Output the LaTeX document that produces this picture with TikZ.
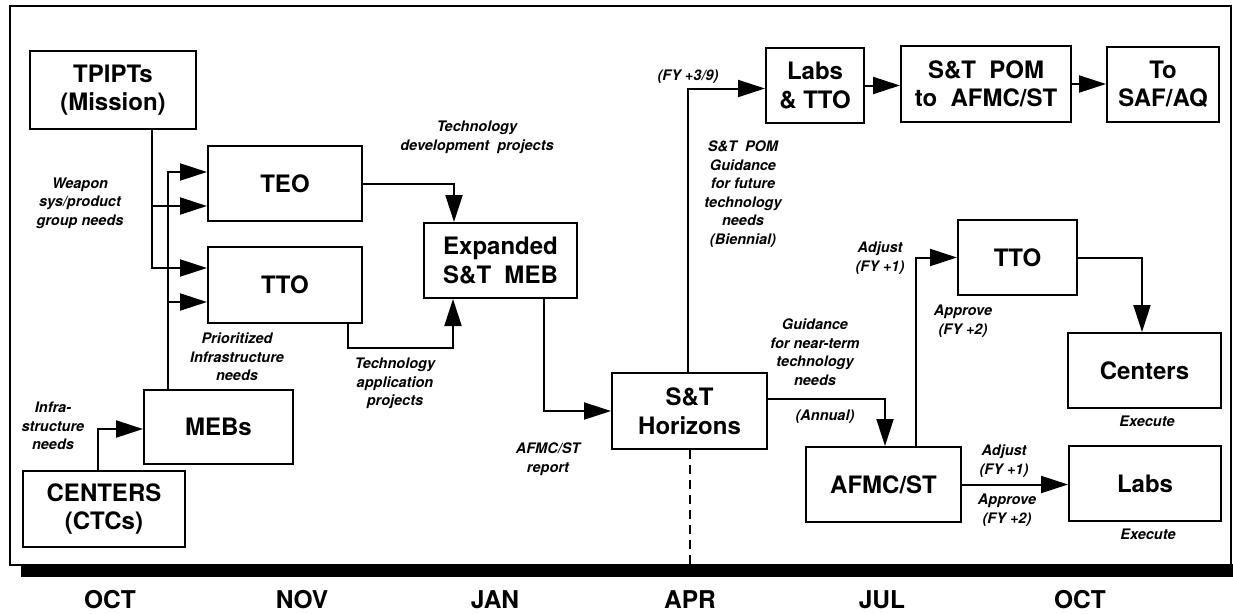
\documentclass[tikz,border=0pt]{standalone}
\usepackage{fontspec}
\setmainfont{TeX Gyre Heros}
\usetikzlibrary{arrows.meta,calc}
\begin{document}
\begin{tikzpicture}[x=1pt,y=-1pt,
 box/.style={draw,line width=2pt,inner sep=0pt,align=center,font=\bfseries\fontsize{24}{28.5}\selectfont},
 lbl/.style={inner sep=0pt,align=center,font=\bfseries\itshape\fontsize{14.5}{18.5}\selectfont},
 mon/.style={inner sep=0pt,font=\bfseries\fontsize{24.5}{28}\selectfont},
 arr/.style={line width=2pt,-{Triangle[length=27pt,width=17pt]}},
 plain/.style={line width=2pt},
]
\useasboundingbox (0,0) rectangle (1233,613);
% frame and time bar
\draw[line width=2pt] (10,6) rectangle (1231,565);
\fill (21,564) rectangle (1233,577);
\coordinate (barTop) at (0,564);

% boxes
\node[box,minimum width=166pt,minimum height=78pt] (tpipts) at (113,90) {TPIPTs\\(Mission)};
\node[box,minimum width=154pt,minimum height=75pt] (teo) at (285,183.5) {TEO};
\node[box,minimum width=154pt,minimum height=76pt] (ttoL) at (285,285) {TTO};
\node[box,minimum width=149pt,minimum height=74pt] (mebs) at (218.5,427) {MEBs};
\node[box,minimum width=162pt,minimum height=76pt] (ctcs) at (104,509) {CENTERS\\(CTCs)};
\node[box,minimum width=153pt,minimum height=75pt] (exp) at (500.5,260.5) {Expanded\\S\&T\ \ MEB};
\node[box,minimum width=155pt,minimum height=76pt] (hor) at (689.5,411) {S\&T\\Horizons};
\node[box,minimum width=98pt,minimum height=75pt] (labtto) at (815,85.5) {Labs\\\&\ TTO};
\node[box,minimum width=170pt,minimum height=76pt] (pom) at (986,84) {S\&T\ \ POM\\to\ \ AFMC/ST};
\node[box,minimum width=112pt,minimum height=75pt] (saf) at (1163,84.5) {To\\SAF/AQ};
\node[box,minimum width=119pt,minimum height=75pt] (ttoR) at (1017.5,257.5) {TTO};
\node[box,minimum width=153pt,minimum height=75pt] (cent) at (1144.5,370.5) {Centers};
\node[box,minimum width=152pt,minimum height=75pt] (labs) at (1145,483.5) {Labs};
\node[box,minimum width=155pt,minimum height=75pt] (afmc) at (883.5,484.5) {AFMC/ST};

% helper coordinates
\coordinate (xa) at (152,0);
\coordinate (xb) at (168,0);
\coordinate (teoA) at ([yshift=11.5pt]teo.west);
\coordinate (teoB) at ([yshift=-22.5pt]teo.west);
\coordinate (ttoA) at ([yshift=17pt]ttoL.west);
\coordinate (ttoB) at ([yshift=-17pt]ttoL.west);
\coordinate (mebsA) at ([yshift=-2pt]mebs.west);
\coordinate (ctcsA) at ([xshift=-6pt]ctcs.north);

% connectors
\draw[arr] (tpipts.south -| xa) |- (ttoA);
\draw[arr] (teoB -| xa) -- (teoB);
\draw[arr] (mebs.north -| xb) |- (teoA);
\draw[arr] (ttoB -| xb) -- (ttoB);
\draw[arr] (ctcsA) |- (mebsA);
\draw[arr] (teo.east) -| ([xshift=-46.5pt]exp.north);
\draw[arr] ([xshift=63pt]ttoL.south) -- ++(0,24) -| ([xshift=-47.5pt]exp.south);
\draw[arr] ([xshift=43.5pt]exp.south) |- (hor.west);
\draw[arr] ([xshift=-2pt]hor.north) |- ([yshift=-3pt]labtto.west);
\draw[arr] (labtto.east) -- (labtto.east -| pom.west);
\draw[arr] (pom.east) -- (pom.east -| saf.west);
\draw[arr] ([yshift=12pt]hor.east) -| ([xshift=1.5pt]afmc.north);
\draw[arr] ([xshift=32.5pt]afmc.north) |- (ttoR.west);
\draw[arr] (ttoR.east) -| ([xshift=-2.5pt]cent.north);
\draw[arr] (afmc.east) -- (afmc.east -| labs.west);
\draw[line width=2pt,dash pattern=on 9pt off 6pt] (hor.south) -- (hor.south |- barTop);

% labels
\node[lbl] (l1) at (80,203) {Weapon\\sys/product\\group needs};
\node[lbl] (l2) at (477,137.5) {Technology\\development\ \ projects};
\node[lbl] (l3) at (237,357) {Prioritized\\Infrastructure\\needs};
\node[lbl] (l4) at (395,383.5) {Technology\\application\\projects};
\node[lbl] (l5) at (53,426) {Infra-\\structure\\needs};
\node[lbl] (l6) at (548,459) {AFMC/ST\\report};
\node[lbl] (l7) at (688,77) {(FY +3/9)};
\node[lbl] (l8) at (743,194) {S\&T\ \ POM\\Guidance\\for future\\technology\\needs\\(Biennial)};
\node[lbl] (l9) at (815,352) {Guidance\\for near-term\\technology\\needs};
\node[lbl] (l10) at (825,417) {(Annual)};
\node[lbl] (l11) at (880,258) {Adjust\\(FY +1)};
\node[lbl] (l12) at (963,321) {Approve\\(FY +2)};
\node[lbl] (l13) at (1147,421) {Execute};
\node[lbl] (l14) at (1004,461) {Adjust\\(FY +1)};
\node[lbl] (l15) at (1007,510) {Approve\\(FY +2)};
\node[lbl] (l16) at (1148,534) {Execute};

% months
\node[mon] (m1) at (110,600) {OCT};
\node[mon] (m2) at (302,600) {NOV};
\node[mon] (m3) at (495,600) {JAN};
\node[mon] (m4) at (690,600) {APR};
\node[mon] (m5) at (882,600) {JUL};
\node[mon] (m6) at (1080,600) {OCT};
\end{tikzpicture}
\end{document}
